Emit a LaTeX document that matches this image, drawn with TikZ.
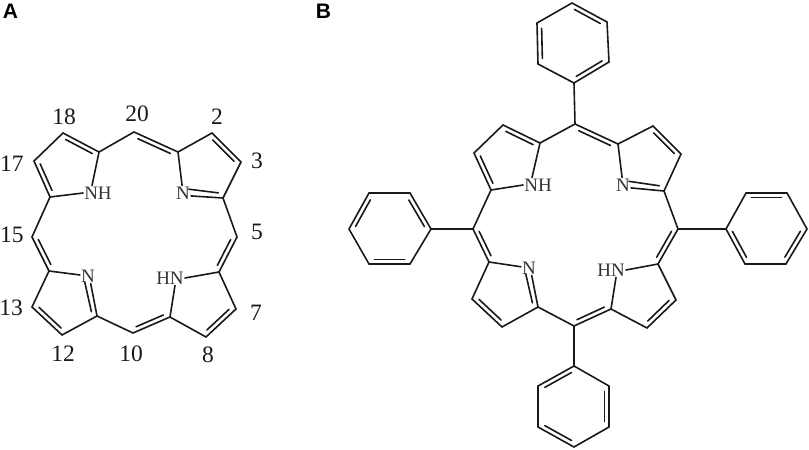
\documentclass[tikz,border=0pt]{standalone}
\usepackage{fontspec}
\setmainfont{Liberation Serif}
\setsansfont{Liberation Sans}
\usetikzlibrary{calc}

\begin{document}
\begin{tikzpicture}[x=1pt,y=-1pt]

\tikzset{bond/.style = {draw=black!90,line width=1.6pt,line cap=round,line join=round}}
\tikzset{inr/.style = {bond,to path={($(\tikztostart)!.13!(\tikztotarget)!4.5pt!-90:(\tikztotarget)$) -- ($(\tikztotarget)!.13!(\tikztostart)!4.5pt!90:(\tikztostart)$)}}}
\tikzset{atom/.style = {inner sep=1pt,text=black!80,font=\fontsize{19}{19}\selectfont}}
\tikzset{num/.style = {inner sep=0pt,text=black!90,font=\fontsize{23.5}{23.5}\selectfont}}
\tikzset{panel/.style = {inner sep=0pt,font=\sffamily\bfseries\fontsize{21}{21}\selectfont}}

\useasboundingbox (0,0) rectangle (809,450);

\node[panel] (pa) at (10.5,11) {A};
\node[panel] (pb) at (323.5,11) {B};

%porphine atoms
\coordinate (a1) at (178,152);
\coordinate (a2) at (212,133);
\coordinate (a3) at (241,162);
\coordinate (a4) at (223,198);
\coordinate (a5) at (237,237);
\coordinate (a6) at (219,272);
\coordinate (a7) at (236,309);
\coordinate (a8) at (206,337);
\coordinate (a9) at (170,317);
\coordinate (a10) at (133,333);
\coordinate (a11) at (97,316);
\coordinate (a12) at (62,335);
\coordinate (a13) at (32,307);
\coordinate (a14) at (49,271);
\coordinate (a15) at (32,237);
\coordinate (a16) at (50,197);
\coordinate (a17) at (34,161);
\coordinate (a18) at (63,133);
\coordinate (a19) at (99,152);
\coordinate (a20) at (134,132);
\node[atom] (anh) at (98,193) {NH};
\node[atom] (an1) at (183,193) {N};
\node[atom] (an2) at (88,276) {N};
\node[atom] (ahn) at (170,278) {HN};
%porphine numbers
\node[num] (l2) at (217,117) {2};
\node[num] (l3) at (257,161) {3};
\node[num] (l5) at (257,232) {5};
\node[num] (l7) at (256,313) {7};
\node[num] (l8) at (208,355) {8};
\node[num] (l10) at (131,354) {10};
\node[num] (l12) at (63,354) {12};
\node[num] (l13) at (11,308) {13};
\node[num] (l15) at (12,235) {15};
\node[num] (l17) at (12,164) {17};
\node[num] (l18) at (64,117) {18};
\node[num] (l20) at (137,114) {20};
%porphine bonds
\draw[bond] (a19) -- ([xshift=-6pt]anh.north);
\draw[bond] (a16) -- (anh.west);
\draw[bond] (a1) -- (an1);
\draw[bond] (a1) -- (a2);
\draw[bond] (a3) -- (a4);
\draw[bond] (a4) -- (a5);
\draw[bond] (a6) -- (a7);
\draw[bond] (a8) -- (a9);
\draw[bond] (a6) -- (ahn.east);
\draw[bond] (a9) -- ([xshift=5pt]ahn.south);
\draw[bond] (a10) -- (a11);
\draw[bond] (a11) -- (a12);
\draw[bond] (a13) -- (a14);
\draw[bond] (a14) -- (an2);
\draw[bond] (a15) -- (a16);
\draw[bond] (a17) -- (a18);
\draw[bond] (a19) -- (a20);
%porphine double bonds
\foreach \p/\q in {a2/a3,a5/a6,a7/a8,a9/a10,a12/a13,a14/a15,a16/a17,a18/a19,a20/a1}{
  \draw[bond] (\p) -- (\q);
  \draw[inr] (\p) to (\q);
}
\draw[bond] (a4) -- (an1.-20);
\draw[inr] (a4) to (an1);
\draw[bond] (a11) -- (an2.-70);
\draw[inr] (an2) to (a11);

%tetraphenylporphine atoms
\coordinate (b1) at (618,144);
\coordinate (b2) at (653,126);
\coordinate (b3) at (681,154);
\coordinate (b4) at (664,191);
\coordinate (b5) at (678,229);
\coordinate (b6) at (658,264);
\coordinate (b7) at (676,300);
\coordinate (b8) at (647,328);
\coordinate (b9) at (611,309);
\coordinate (b10) at (574,326);
\coordinate (b11) at (538,307);
\coordinate (b12) at (502,327);
\coordinate (b13) at (472,299);
\coordinate (b14) at (489,262);
\coordinate (b15) at (473,229);
\coordinate (b16) at (491,190);
\coordinate (b17) at (474,153);
\coordinate (b18) at (503,125);
\coordinate (b19) at (540,143);
\coordinate (b20) at (575,124);
\node[atom] (bnh) at (538,185) {NH};
\node[atom] (bn1) at (623,185) {N};
\node[atom] (bn2) at (529,268) {N};
\node[atom] (bhn) at (611,270) {HN};
%top phenyl
\coordinate (t1) at (574,83);
\coordinate (t2) at (538,64);
\coordinate (t3) at (537,23);
\coordinate (t4) at (572,3);
\coordinate (t5) at (607,22);
\coordinate (t6) at (609,62);
%right phenyl
\coordinate (r1) at (726,229);
\coordinate (r2) at (745,264);
\coordinate (r3) at (786,264);
\coordinate (r4) at (807,229);
\coordinate (r5) at (787,193);
\coordinate (r6) at (746,193);
%bottom phenyl
\coordinate (u1) at (574,366);
\coordinate (u2) at (609,386);
\coordinate (u3) at (609,427);
\coordinate (u4) at (574,447);
\coordinate (u5) at (538,427);
\coordinate (u6) at (538,386);
%left phenyl
\coordinate (w1) at (431,229);
\coordinate (w2) at (410,264);
\coordinate (w3) at (369,264);
\coordinate (w4) at (349,229);
\coordinate (w5) at (369,193);
\coordinate (w6) at (410,193);
%tetraphenylporphine bonds
\draw[bond] (b19) -- ([xshift=-6pt]bnh.north);
\draw[bond] (b16) -- (bnh.west);
\draw[bond] (b1) -- (bn1);
\draw[bond] (b1) -- (b2);
\draw[bond] (b3) -- (b4);
\draw[bond] (b4) -- (b5);
\draw[bond] (b6) -- (b7);
\draw[bond] (b8) -- (b9);
\draw[bond] (b6) -- (bhn.east);
\draw[bond] (b9) -- ([xshift=5pt]bhn.south);
\draw[bond] (b10) -- (b11);
\draw[bond] (b11) -- (b12);
\draw[bond] (b13) -- (b14);
\draw[bond] (b14) -- (bn2);
\draw[bond] (b15) -- (b16);
\draw[bond] (b17) -- (b18);
\draw[bond] (b19) -- (b20);
\draw[bond] (b20) -- (t1);
\draw[bond] (b5) -- (r1);
\draw[bond] (b10) -- (u1);
\draw[bond] (b15) -- (w1);
\draw[bond] (t1) -- (t2);
\draw[bond] (t3) -- (t4);
\draw[bond] (t5) -- (t6);
\draw[bond] (r2) -- (r3);
\draw[bond] (r4) -- (r5);
\draw[bond] (r6) -- (r1);
\draw[bond] (u1) -- (u2);
\draw[bond] (u3) -- (u4);
\draw[bond] (u5) -- (u6);
\draw[bond] (w1) -- (w2);
\draw[bond] (w3) -- (w4);
\draw[bond] (w5) -- (w6);
%tetraphenylporphine double bonds
\foreach \p/\q in {b2/b3,b5/b6,b7/b8,b9/b10,b12/b13,b14/b15,b16/b17,b18/b19,b20/b1,
  t2/t3,t4/t5,t6/t1,r2/r1,r4/r3,r6/r5,u2/u3,u4/u5,u6/u1,w2/w3,w4/w5,w6/w1}{
  \draw[bond] (\p) -- (\q);
  \draw[inr] (\p) to (\q);
}
\draw[bond] (b4) -- (bn1.-20);
\draw[inr] (b4) to (bn1);
\draw[bond] (b11) -- (bn2.-70);
\draw[inr] (bn2) to (b11);

\end{tikzpicture}
\end{document}
